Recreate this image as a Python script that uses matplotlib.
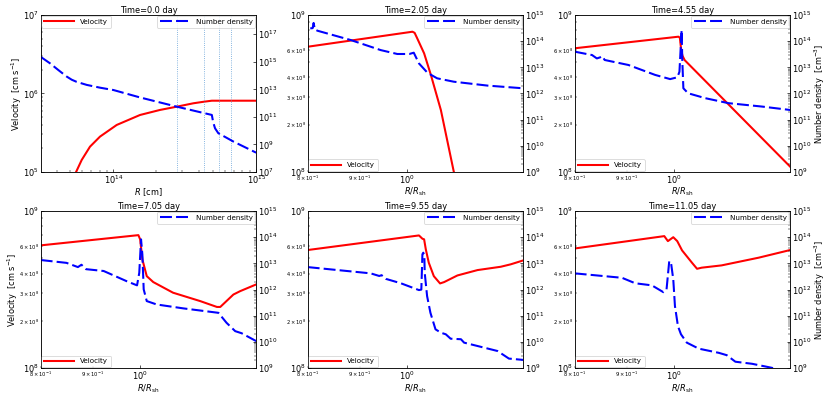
import numpy as np
import matplotlib
matplotlib.use("Agg")
import matplotlib.pyplot as plt

# ---------------- data ----------------
titles = ["Time=0.0 day", "Time=2.05 day", "Time=4.55 day",
          "Time=7.05 day", "Time=9.55 day", "Time=11.05 day"]

# panel 1 (R in cm)
r0_v = [5.0e13, 5.46e13, 5.99e13, 6.85e13, 8.05e13, 1.054e14, 1.535e14, 2.12e14, 2.78e14, 3.63e14,
        4.3e14, 4.89e14, 1.0e15]
v0 = [7.0e4, 9.9e4, 1.42e5, 2.1e5, 2.82e5, 3.97e5, 5.32e5, 6.17e5, 6.79e5, 7.5e5, 7.85e5, 8.09e5, 8.09e5]
r0_n = [3.09e13, 3.59e13, 4.1e13, 4.7e13, 5.1e13, 5.52e13, 6.5e13, 8.05e13, 1.0e14, 1.53e14, 2.78e14, 4.89e14,
        5.0e14, 5.15e14, 5.43e14, 6.93e14, 1.0e15]
n0 = [2.3e15, 7.8e14, 2.57e14, 8.5e13, 5.0e13, 3.5e13, 2.1e13, 1.32e13, 8.9e12, 2.6e12, 5.5e11, 1.38e11,
      4.0e10, 1.48e10, 6.5e9, 1.6e9, 2.5e8]
r0_lines = [2.78e14, 4.32e14, 5.53e14, 6.7e14]

# panel 2 (R / R_sh)
r2_v = [0.8, 1.013, 1.018, 1.024, 1.040, 1.056, 1.08, 1.112, 1.13]
v2 = [6.28e8, 7.83e8, 7.7e8, 7.1e8, 5.7e8, 4.15e8, 2.48e8, 1.0e8, 8.0e7]
r2_n = [0.8047, 0.809, 0.8108, 0.8115, 0.813, 0.818, 0.882, 0.943, 0.979, 1.006, 1.016,
        1.028, 1.048, 1.071, 1.112, 1.2, 1.3]
n2 = [3.09e14, 3.16e14, 5.0e14, 4.17e14, 2.82e14, 2.51e14, 1.1e14, 4.57e13, 3.24e13, 3.24e13, 3.63e13,
      1.41e13, 6.17e12, 3.8e12, 2.82e12, 2.0e12, 1.58e12]

# panel 3
r3_v = [0.8, 1.011, 1.014, 1.017, 1.020, 1.025, 1.3]
v3 = [6.14e8, 7.28e8, 7.15e8, 6.0e8, 5.5e8, 5.16e8, 1.08e8]
r3_n = [0.8, 0.832, 0.841, 0.847, 0.851, 0.856, 0.903, 0.959, 0.992, 1.0083, 1.013, 1.018,
        1.0195, 1.022, 1.033, 1.074, 1.131, 1.22, 1.3]
n3 = [3.98e13, 2.95e13, 2.19e13, 2.4e13, 2.69e13, 1.91e13, 1.23e13, 5.13e12, 3.55e12, 4.17e12, 6.76e12, 2.69e14,
      1.91e13, 1.58e12, 1.02e12, 6.6e11, 4.27e11, 3.16e11, 2.34e11]

# panel 4
r4_v = [0.8, 0.997, 1.001, 1.006, 1.016, 1.031, 1.078, 1.146, 1.19, 1.199, 1.235, 1.254, 1.3]
v4 = [6.05e8, 7.03e8, 6.61e8, 4.92e8, 3.85e8, 3.53e8, 3.02e8, 2.67e8, 2.45e8, 2.45e8, 2.94e8, 3.09e8, 3.41e8]
r4_n = [0.8, 0.848, 0.87, 0.877, 0.886, 0.922, 0.971, 0.994, 0.999, 1.003, 1.006, 1.009, 1.016,
        1.039, 1.103, 1.194, 1.216, 1.24, 1.258, 1.3]
n4 = [1.35e13, 1.05e13, 7.24e12, 8.91e12, 6.03e12, 5.13e12, 2.09e12, 1.45e12, 4.37e12, 8.32e13, 2.19e13, 1.02e12,
      3.63e11, 2.69e11, 1.91e11, 1.29e11, 5.37e10, 2.57e10, 2.14e10, 1.07e10]

# panel 5
r5_v = [0.8, 1.028, 1.036, 1.04, 1.044, 1.051, 1.063, 1.078, 1.088, 1.121, 1.173, 1.236, 1.264, 1.3]
v5 = [5.65e8, 7.0e8, 6.67e8, 6.61e8, 5.7e8, 4.69e8, 3.85e8, 3.46e8, 3.53e8, 3.89e8, 4.21e8, 4.42e8, 4.58e8, 4.85e8]
r5_n = [0.8, 0.922, 0.94, 0.945, 0.954, 0.987, 1.028, 1.0335, 1.036, 1.038, 1.0405, 1.0414, 1.047,
        1.0549, 1.067, 1.08, 1.092, 1.104, 1.13, 1.138, 1.227, 1.259, 1.3]
n5 = [7.24e12, 4.17e12, 3.31e12, 3.55e12, 2.57e12, 1.74e12, 9.55e11, 1.0e12, 2.24e13, 2.57e13, 2.0e13, 4.37e12,
      5.62e11, 1.29e11, 3.02e10, 2.24e10, 1.95e10, 1.32e10, 1.26e10, 9.33e9, 4.47e9, 2.29e9, 2.04e9]

# panel 6
r6_v = [0.8, 0.979, 0.987, 0.999, 1.008, 1.019, 1.042, 1.054, 1.065, 1.114, 1.211, 1.3]
v6 = [5.78e8, 6.93e8, 6.44e8, 6.82e8, 6.44e8, 5.62e8, 4.69e8, 4.29e8, 4.36e8, 4.51e8, 5.05e8, 5.65e8]
r6_n = [0.8, 0.89, 0.917, 0.952, 0.977, 0.984, 0.990, 0.994, 0.999, 1.0028, 1.0096, 1.0165, 1.03,
        1.058, 1.107, 1.127, 1.149, 1.193, 1.247, 1.3]
n6 = [4.17e12, 2.82e12, 1.74e12, 1.45e12, 7.94e11, 1.02e12, 1.23e13, 1.05e13, 2.45e12, 2.34e11, 3.98e10,
      1.95e10, 9.33e9, 5.5e9, 3.8e9, 3.09e9, 1.74e9, 1.45e9, 1.02e9, 6.6e8]

panels = [(r0_v, v0, r0_n, n0), (r2_v, v2, r2_n, n2), (r3_v, v3, r3_n, n3),
          (r4_v, v4, r4_n, n4), (r5_v, v5, r5_n, n5), (r6_v, v6, r6_n, n6)]

# ---------------- figure ----------------
W = 14.0
DPI = 830 / W
fig, axes = plt.subplots(2, 3, figsize=(W, 396 / DPI), dpi=DPI)
fig.subplots_adjust(left=0.049, right=0.952, bottom=0.0707, top=0.962, wspace=0.239, hspace=0.25)

dash = (0, (5.8, 2.0))
leg_kw = dict(fontsize=8.7, handlelength=4.2, borderaxespad=0.1)
for i, ax in enumerate(axes.flat):
    rv, vv, rn, nn = panels[i]
    ax.plot(rv, vv, color="red", lw=2.5, label="Velocity")
    ax.set_xscale("log")
    ax.set_yscale("log")
    ax2 = ax.twinx()
    ax2.plot(rn, nn, color="blue", lw=2.5, linestyle=dash, label="Number density")
    ax2.set_yscale("log")
    if i == 0:
        ax.set_xlim(3.09e13, 1e15)
        ax.set_ylim(1e5, 1e7)
        ax2.set_ylim(1e7, 2.5e18)
        for xl in r0_lines:
            ax.axvline(xl, color="#5b9bd5", ls=":", lw=1.0)
        ax.set_xlabel(r"$R$ [cm]", fontsize=10, labelpad=0)
        ax.legend(loc="upper left", **leg_kw)
    else:
        ax.set_xlim(0.8, 1.3)
        ax.set_ylim(1e8, 1e9)
        ax2.set_ylim(1e9, 1e15)
        ax.set_xlabel(r"$R/R_{\rm sh}$", fontsize=10, labelpad=0)
        ax.legend(loc="lower left", **leg_kw)
    ax2.legend(loc="upper right", **leg_kw)
    ax.set_title(titles[i], fontsize=10, pad=3)
    ax.tick_params(which="both", direction="in", pad=2)
    ax2.tick_params(which="both", direction="in", pad=2)
    ax.tick_params(which="major", labelsize=10)
    ax.tick_params(which="minor", labelsize=6.3)
    ax2.tick_params(which="major", labelsize=10)
    if i in (0, 3):
        ax.set_ylabel(r"Velocity  [cm s$^{-1}$]", fontsize=10, labelpad=-1)
    if i in (2, 5):
        ax2.set_ylabel(r"Number density  [cm$^{-3}$]", fontsize=10, labelpad=2)

fig.savefig("out.png", dpi=DPI)
